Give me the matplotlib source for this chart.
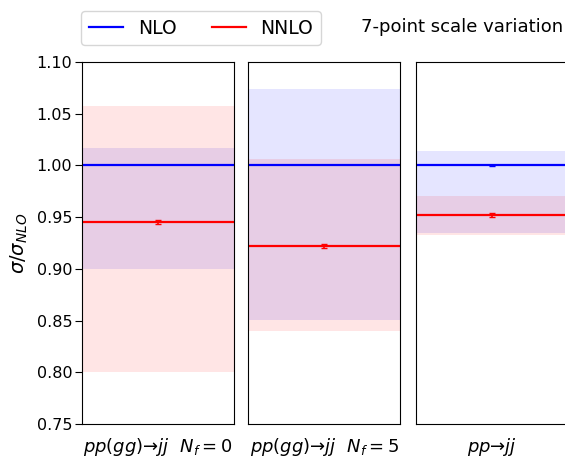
import matplotlib
matplotlib.use("Agg")
import matplotlib.pyplot as plt

processes = [r"$pp(gg)$→$jj\ \ N_f=0$", r"$pp(gg)$→$jj\ \ N_f=5$", r"$pp$→$jj$"]
nlo_central = [1.0, 1.0, 1.0]
nlo_lo = [0.900, 0.851, 0.935]
nlo_hi = [1.017, 1.074, 1.014]
nnlo_central = [0.945, 0.922, 0.952]
nnlo_err = [0.002, 0.002, 0.002]
nnlo_lo = [0.800, 0.840, 0.933]
nnlo_hi = [1.057, 1.006, 0.970]
nlo_err = [0.0, 0.0, 0.0005]
yticks = [0.75, 0.80, 0.85, 0.90, 0.95, 1.00, 1.05, 1.10]

fig = plt.figure(figsize=(5.65, 4.57), dpi=100)
W, H = 565, 457
lefts = [82, 248, 416]
width = 152
bottom = 1 - 424 / H
height = (424 - 62) / H

axes = []
for i, l in enumerate(lefts):
    ax = fig.add_axes([l / W, bottom, width / W, height])
    axes.append(ax)
    ax.fill_between([0, 1], nlo_lo[i], nlo_hi[i], color="blue", alpha=0.1, lw=0)
    ax.fill_between([0, 1], nnlo_lo[i], nnlo_hi[i], color="red", alpha=0.1, lw=0)
    ax.plot([0, 1], [nlo_central[i]] * 2, color="blue", lw=1.6, label="NLO")
    ax.plot([0, 1], [nnlo_central[i]] * 2, color="red", lw=1.6, label="NNLO")
    if nlo_err[i] > 0:
        ax.errorbar([0.5], [nlo_central[i]], yerr=[nlo_err[i]], color="blue", capsize=2, lw=1.2, fmt="none")
    ax.errorbar([0.5], [nnlo_central[i]], yerr=[nnlo_err[i]], color="red", capsize=2, lw=1.2, fmt="none")
    ax.set_xlim(0, 1)
    ax.set_ylim(0.75, 1.10)
    ax.set_xticks([])
    ax.set_xlabel(processes[i], fontsize=13, labelpad=9)
    if i == 0:
        ax.set_yticks(yticks)
        ax.set_yticklabels([f"{v:.2f}" for v in yticks], fontsize=11.5)
        ax.tick_params(axis="y", length=5, pad=2)
        ax.set_ylabel(r"$\sigma/\sigma_{NLO}$", fontsize=14)
        ax.yaxis.set_label_coords((30 - 82) / 152, 0.5)
    else:
        ax.set_yticks([])

handles, labels = axes[0].get_legend_handles_labels()
fig.legend(handles, labels, loc="center left", bbox_to_anchor=(72 / W, 1 - 28 / H),
           ncol=2, fontsize=13.5, frameon=True, handlelength=1.8, columnspacing=1.9)
fig.text(563 / W, 1 - 27 / H, "7-point scale variation", fontsize=13, ha="right", va="center")

fig.savefig("out.png", dpi=100)
